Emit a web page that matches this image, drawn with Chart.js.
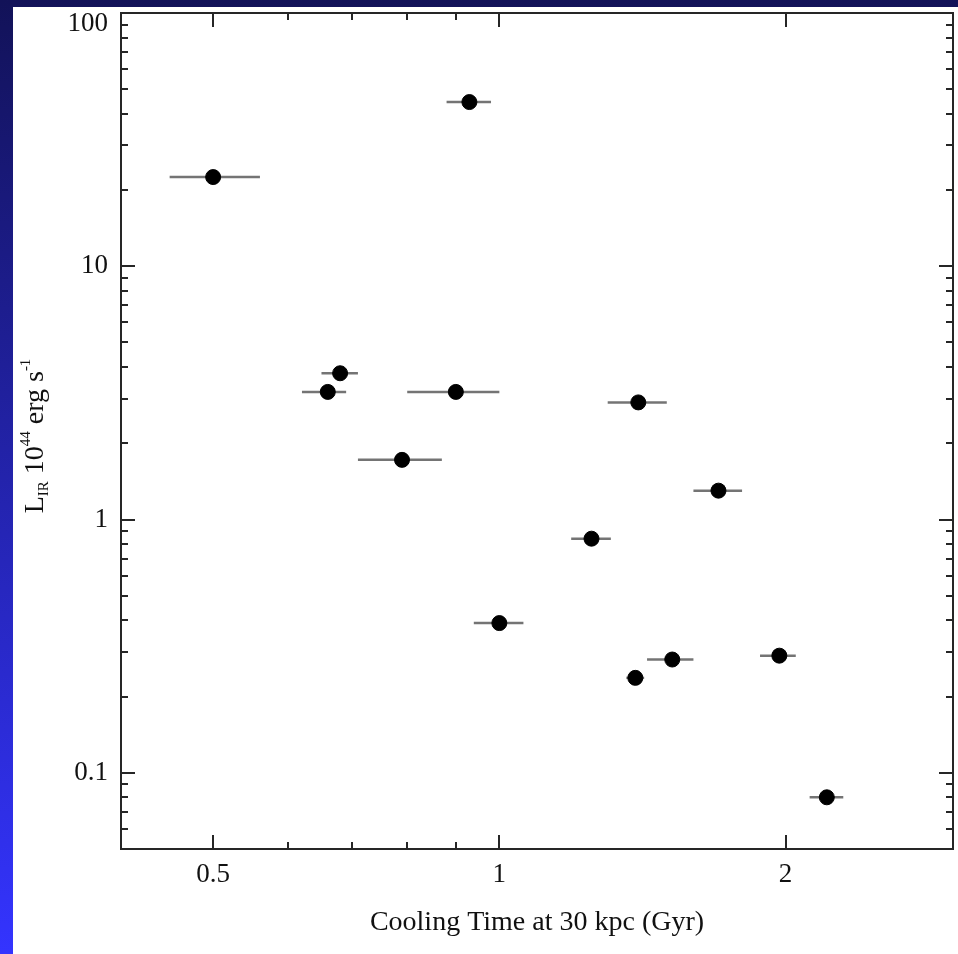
<!DOCTYPE html>
<html>
<head>
<meta charset="utf-8">
<script src="https://cdn.jsdelivr.net/npm/chart.js@4"></script>
<style>
  body { margin: 0; }
  .page {
    position: relative;
    width: 958px;
    height: 954px;
    background: linear-gradient(#121258, #3434ff);
  }
  .sheet {
    position: absolute;
    left: 13px;
    top: 7px;
    right: 0;
    bottom: 0;
    background: #fff;
  }
  #myChart { position: absolute; left: 0; top: 0; }
</style>
</head>
<body>
<div class="page">
  <div class="sheet"></div>
  <canvas id="myChart" width="958" height="954"></canvas>
</div>
<script>
// data
const coolingTime = [0.50, 0.93, 0.68, 0.66, 0.90, 0.79, 1.40, 1.70, 1.25, 1.00, 1.39, 1.52, 1.97, 2.21];
const timeLow = [0.45, 0.88, 0.65, 0.62, 0.80, 0.71, 1.30, 1.60, 1.19, 0.94, 1.36, 1.43, 1.88, 2.12];
const timeHigh = [0.56, 0.98, 0.71, 0.69, 1.00, 0.87, 1.50, 1.80, 1.31, 1.06, 1.42, 1.60, 2.05, 2.30];
const irLum = [22.5, 44.5, 3.78, 3.19, 3.19, 1.72, 2.90, 1.30, 0.84, 0.39, 0.237, 0.28, 0.29, 0.080];

const xLabels = [0.5, 1, 2];
const xMinor = [0.6, 0.7, 0.8, 0.9];
const yLabels = [0.1, 1, 10, 100];

const serif = "'Liberation Serif', 'DejaVu Serif', serif";

// minor ticks for the y axis, 2..9 of each decade
const yMinor = [];
[0.01, 0.1, 1, 10].forEach((d) => {
  for (let k = 2; k <= 9; k++) {
    const v = +(k * d).toPrecision(3);
    if (v >= 0.05 && v < 100) yMinor.push(v);
  }
});

const isMajor = (list, v) => list.some((m) => Math.abs(m - v) / m < 1e-6);

// inward ticks on all four sides + frame
const frameTicks = {
  id: "frameTicks",
  afterDraw(chart) {
    const { ctx, chartArea: a, scales } = chart;
    const x = scales.x, y = scales.y;
    ctx.save();
    ctx.strokeStyle = "#262626";
    ctx.lineWidth = 2;
    ctx.beginPath();
    x.ticks.forEach((t) => {
      const px = Math.round(x.getPixelForValue(t.value));
      const len = isMajor(xLabels, t.value) ? 14 : 7;
      ctx.moveTo(px, a.bottom); ctx.lineTo(px, a.bottom - len);
      ctx.moveTo(px, a.top); ctx.lineTo(px, a.top + len);
    });
    y.ticks.forEach((t) => {
      const py = Math.round(y.getPixelForValue(t.value));
      const len = isMajor(yLabels, t.value) ? 14 : 7;
      ctx.moveTo(a.left, py); ctx.lineTo(a.left + len, py);
      ctx.moveTo(a.right, py); ctx.lineTo(a.right - len, py);
    });
    ctx.stroke();
    ctx.strokeRect(a.left, a.top, a.right - a.left, a.bottom - a.top);
    ctx.restore();

    // y title with sub/superscripts
    const parts = [
      ["L", 28, 0],
      ["IR", 15, 5],
      [" 10", 28, 0],
      ["44", 15, -13],
      [" erg s", 28, 0],
      ["-1", 15, -13],
    ];
    ctx.save();
    ctx.translate(43, 436);
    ctx.rotate(-Math.PI / 2);
    ctx.fillStyle = "#111";
    ctx.textBaseline = "alphabetic";
    let total = 0;
    parts.forEach((p) => {
      ctx.font = p[1] + "px " + serif;
      total += ctx.measureText(p[0]).width;
    });
    let cx = -total / 2;
    parts.forEach((p) => {
      ctx.font = p[1] + "px " + serif;
      ctx.fillText(p[0], cx, p[2]);
      cx += ctx.measureText(p[0]).width;
    });
    ctx.restore();
  },
};

const chartContainer = document.getElementById("myChart").getContext("2d");

const errorBars = coolingTime.map((t, i) => ({
  type: "line",
  data: [
    { x: timeLow[i], y: irLum[i] },
    { x: timeHigh[i], y: irLum[i] },
  ],
  borderColor: "#747474",
  borderWidth: 2.5,
  pointRadius: 0,
  fill: false,
  order: 2,
}));

const myChart = new Chart(chartContainer, {
  type: "scatter",
  data: {
    datasets: [
      {
        label: "LIR",
        data: coolingTime.map((t, i) => ({ x: t, y: irLum[i] })),
        backgroundColor: "#000",
        borderColor: "#000",
        pointRadius: 7.5,
        order: 1,
      },
      ...errorBars,
    ],
  },
  options: {
    responsive: false,
    animation: false,
    layout: { autoPadding: false, padding: { left: 0, top: 13, right: 5, bottom: 0 } },
    plugins: {
      legend: { display: false },
      tooltip: { enabled: false },
    },
    scales: {
      x: {
        type: "logarithmic",
        min: 0.4,
        max: 3,
        grid: { display: false, drawTicks: false },
        border: { display: false },
        afterBuildTicks: (axis) => {
          axis.ticks = xLabels.concat(xMinor).sort((a, b) => a - b).map((v) => ({ value: v }));
        },
        afterFit: (axis) => {
          axis.height = 105;
          axis.paddingLeft = 0;
          axis.paddingRight = 0;
        },
        ticks: {
          autoSkip: false,
          maxRotation: 0,
          padding: 10,
          color: "#111",
          font: { family: serif, size: 27 },
          callback: (v) => (isMajor(xLabels, v) ? String(v) : ""),
        },
        title: {
          display: true,
          text: "Cooling Time at 30 kpc (Gyr)",
          color: "#111",
          font: { family: serif, size: 28 },
          padding: { top: 0, bottom: 15 },
        },
      },
      y: {
        type: "logarithmic",
        min: 0.05,
        max: 100,
        grid: { display: false, drawTicks: false },
        border: { display: false },
        afterBuildTicks: (axis) => {
          axis.ticks = yLabels.concat(yMinor).sort((a, b) => a - b).map((v) => ({ value: v }));
        },
        afterFit: (axis) => {
          axis.width = 121;
          axis.paddingTop = 0;
          axis.paddingBottom = 0;
        },
        ticks: {
          autoSkip: false,
          padding: 13,
          color: "#111",
          font: { family: serif, size: 27, lineHeight: "22px" },
          // top label sits just below the frame corner, as in the original
          callback: (v) => {
            if (!isMajor(yLabels, v)) return "";
            return v === 100 ? ["", "100"] : String(v);
          },
        },
      },
    },
  },
  plugins: [frameTicks],
});
</script>
</body>
</html>
